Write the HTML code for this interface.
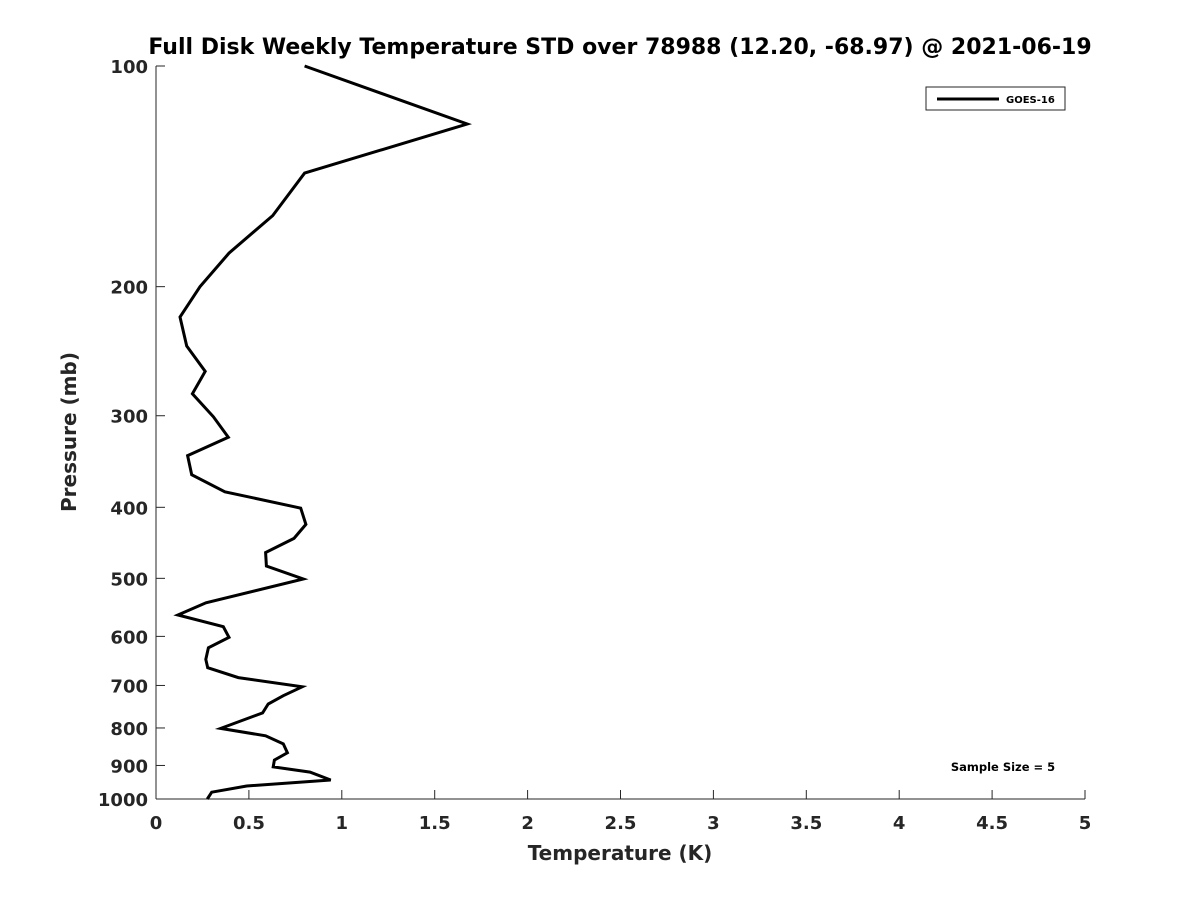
<!DOCTYPE html>
<html><head><meta charset="utf-8"><style>
html,body{margin:0;padding:0;background:#fff;}
svg{display:block;font-family:"DejaVu Sans","Liberation Sans",sans-serif;}
</style></head><body>
<svg id="chart" width="1200" height="900" viewBox="0 0 1200 900">
<rect width="1200" height="900" fill="#fff"/>
<text x="620" y="54" text-anchor="middle" font-size="22" font-weight="bold" fill="#000">Full Disk Weekly Temperature STD over 78988 (12.20, -68.97) @ 2021-06-19</text>
<g id="axes"></g>
<g id="series"></g>
<text x="620" y="860" text-anchor="middle" font-size="20" font-weight="bold" fill="#262626">Temperature (K)</text>
<text transform="translate(76,432) rotate(-90)" text-anchor="middle" font-size="20" font-weight="bold" fill="#262626">Pressure (mb)</text>
<g>
<rect x="926" y="87" width="139" height="23" fill="#fff" stroke="#262626" stroke-width="1"/>
<line x1="937" y1="99" x2="999" y2="99" stroke="#000" stroke-width="3"/>
<text x="1006" y="103" font-size="10" font-weight="bold" fill="#000">GOES-16</text>
</g>
<text x="1003" y="771" text-anchor="middle" font-size="11.5" font-weight="bold" fill="#000">Sample Size = 5</text>
</svg>
<script>
const pressures = [100,120,140,160,180,200,220,241,261,280,301,321,340,361,381,401,422,441,461,481,501,540,561,582,602,622,645,662,683,703,723,742,763,801,820,841,865,885,904,919,942,960,979,1000];
const temps = [0.80,1.675,0.80,0.628,0.393,0.237,0.129,0.165,0.265,0.196,0.309,0.389,0.17,0.192,0.371,0.779,0.807,0.743,0.59,0.594,0.793,0.269,0.118,0.362,0.393,0.282,0.268,0.278,0.443,0.787,0.685,0.604,0.574,0.348,0.59,0.685,0.707,0.637,0.631,0.829,0.94,0.488,0.30,0.276];
const xTicks = [0,0.5,1,1.5,2,2.5,3,3.5,4,4.5,5];
const xTickLabels = ["0","0.5","1","1.5","2","2.5","3","3.5","4","4.5","5"];
const yTicks = [100,200,300,400,500,600,700,800,900,1000];
const yTickLabels = ["100","200","300","400","500","600","700","800","900","1000"];

const X0=156, X1=1085, Y0=66, Y1=799, XMIN=0, XMAX=5, PMIN=100, PMAX=1000;
function xs(v){return X0+(v-XMIN)/(XMAX-XMIN)*(X1-X0);}
function ys(p){return Y0+(Math.log10(p)-Math.log10(PMIN))/(Math.log10(PMAX)-Math.log10(PMIN))*(Y1-Y0);}
const NS="http://www.w3.org/2000/svg";
const axes=document.getElementById('axes');
function mk(tag,attrs,parent){const e=document.createElementNS(NS,tag);for(const k in attrs)e.setAttribute(k,attrs[k]);parent.appendChild(e);return e;}
const xl=mk('line',{x1:X0,y1:Y1,x2:X1,y2:Y1,stroke:'#262626','stroke-width':1},axes);


const yl=mk('line',{x1:X0,y1:Y0,x2:X0,y2:Y1,stroke:'#262626','stroke-width':1},axes);


xTicks.forEach((v,i)=>{
  const t=mk('line',{x1:xs(v),y1:Y1,x2:xs(v),y2:Y1-9,stroke:'#262626','stroke-width':1},axes);
  
  
  const l=mk('text',{x:xs(v),y:Y1+30,'text-anchor':'middle','font-size':18,'font-weight':'bold',fill:'#262626'},axes);
  l.textContent=xTickLabels[i];
  
  
});
yTicks.forEach((p,i)=>{
  const t=mk('line',{x1:X0,y1:ys(p),x2:X0+9,y2:ys(p),stroke:'#262626','stroke-width':1},axes);
  
  
  const l=mk('text',{x:X0-8,y:ys(p)+7,'text-anchor':'end','font-size':18,'font-weight':'bold',fill:'#262626'},axes);
  l.textContent=yTickLabels[i];
  
  
});
const pts=temps.map((t,i)=>xs(t).toFixed(1)+','+ys(pressures[i]).toFixed(1)).join(' ');
const line=mk('polyline',{points:pts,fill:'none',stroke:'#000','stroke-width':3,'stroke-linejoin':'miter'},document.getElementById('series'));


</script>
</body></html>
